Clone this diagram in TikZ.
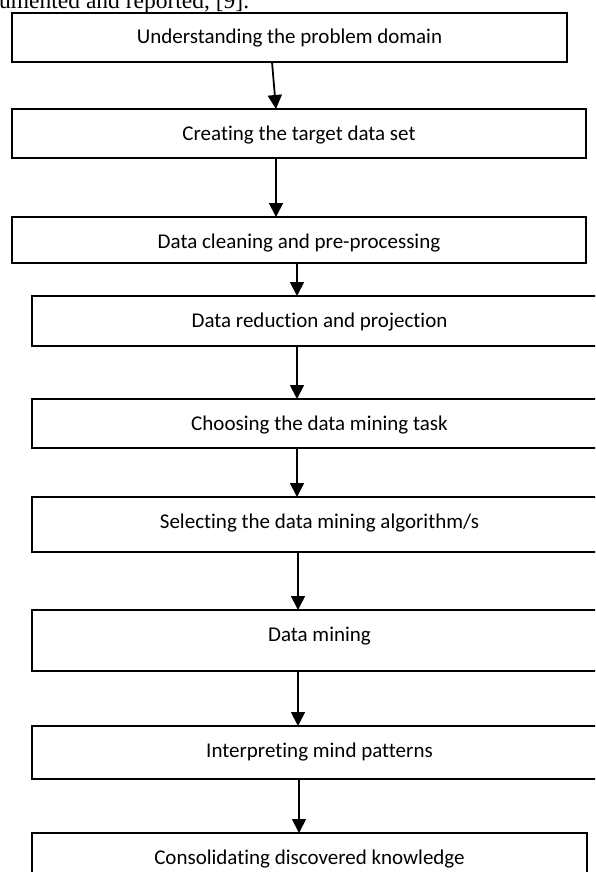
\documentclass[tikz,border=0pt]{standalone}
\usepackage{fontspec}
\setmainfont{Carlito}[Ligatures={NoCommon,NoContextual}]
\newfontfamily\serifx{Liberation Serif}
\usetikzlibrary{arrows.meta}
\tikzset{
  box/.style={draw=black, line width=1.5pt, rectangle, inner sep=0pt, outer sep=0pt, fill=white},
  lab/.style={anchor=base, inner sep=0pt, font=\fontsize{21}{25}\selectfont},
  arr/.style={line width=1.8pt, -{Triangle[length=14pt,width=14pt]}}
}
\begin{document}
\begin{tikzpicture}[x=1pt,y=-1pt]
\useasboundingbox (0,0) rectangle (595,872);
\clip (0,0) rectangle (595,872);
\fill[white] (0,0) rectangle (595,872);
% cut-off caption line of the page above
\node[anchor=base west, inner sep=0pt, font=\serifx\fontsize{23.5}{28}\selectfont] (cap) at (-1,8.5) {umented and reported, [9].};
% boxes
\node[box, minimum width=555pt, minimum height=49pt] (b1) at (289.5,37.5) {};
\node[box, minimum width=574pt, minimum height=49pt] (b2) at (299,133.5) {};
\node[box, minimum width=574pt, minimum height=46pt] (b3) at (299,240) {};
\node[box, minimum width=575pt, minimum height=50pt] (b4) at (319.5,321) {};
\node[box, minimum width=575pt, minimum height=49pt] (b5) at (319.5,423.5) {};
\node[box, minimum width=575pt, minimum height=55pt] (b6) at (319.5,524.5) {};
\node[box, minimum width=575pt, minimum height=61pt] (b7) at (319.5,640.5) {};
\node[box, minimum width=575pt, minimum height=53pt] (b8) at (319.5,752.5) {};
\node[box, minimum width=555pt, minimum height=47pt] (b9) at (309.5,856.5) {};
% labels
\node[lab] (t1) at (289.5,44) {Understanding the problem domain};
\node[lab] (t2) at (299,140) {Creating the target data set};
\node[lab] (t3) at (299,248) {Data cleaning and pre-processing};
\node[lab] (t4) at (319.5,327) {Data reduction and projection};
\node[lab] (t5) at (319.5,430) {Choosing the data mining task};
\node[lab] (t6) at (319.5,528) {Selecting the data mining algorithm/s};
\node[lab] (t7) at (319.5,641) {Data mining};
\node[lab] (t8) at (319.5,757) {Interpreting mind patterns};
\node[lab] (t9) at (309.5,864) {Consolidating discovered knowledge};
% arrows
\draw[arr] (272,0 |- b1.south) -- (276,0 |- b2.north);
\draw[arr] (276,0 |- b2.south) -- (276,0 |- b3.north);
\draw[arr] (297,0 |- b3.south) -- (297,0 |- b4.north);
\draw[arr] (297,0 |- b4.south) -- (297,0 |- b5.north);
\draw[arr] (297,0 |- b5.south) -- (297,0 |- b6.north);
\draw[arr] (298,0 |- b6.south) -- (298,0 |- b7.north);
\draw[arr] (298,0 |- b7.south) -- (298,0 |- b8.north);
\draw[arr] (299,0 |- b8.south) -- (299,0 |- b9.north);
\end{tikzpicture}
\end{document}
